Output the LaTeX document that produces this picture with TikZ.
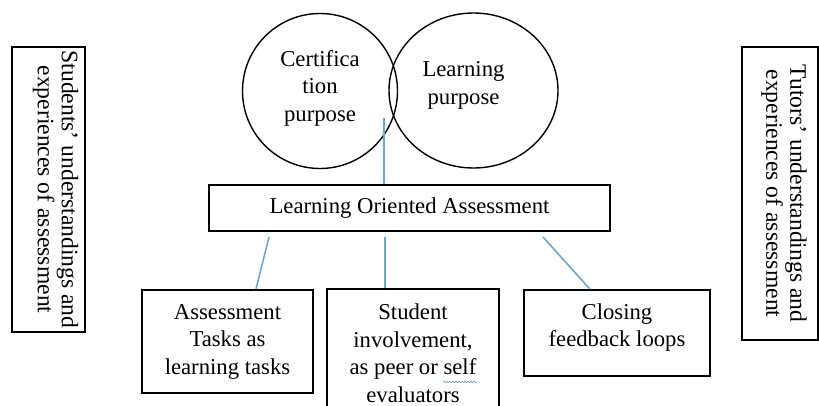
\documentclass[tikz,border=0pt]{standalone}
\usepackage{fontspec}
\setmainfont{Liberation Serif}
\usepackage{tikz}
\usetikzlibrary{shapes.geometric}
\usetikzlibrary{decorations.pathmorphing}
\definecolor{linkblue}{RGB}{112,166,204}

\begin{document}
\begin{tikzpicture}[x=1pt,y=-1pt,
	every node/.style={font=\fontsize{22.7}{27.5}\selectfont},
	box/.style={draw, line width=1.6pt, align=center, inner sep=0pt},
	purpose/.style={draw, line width=1.4pt},
	side/.style={draw, line width=1.4pt},
	sidetext/.style={rotate=-90, align=center, font=\fontsize{23.6}{24}\selectfont},
	link/.style={draw=linkblue, line width=1.6pt}]
		\useasboundingbox (0,0) rectangle (819,405);
%		the two purposes
		\node (cert) [purpose, circle, minimum size=155pt,
		label={[align=center, yshift=3pt]center:Certifica\\tion\\purpose}] at (320,91) {};
		\node (learn) [purpose, ellipse, minimum width=169pt, minimum height=155pt,
		label={[align=center, xshift=-10pt, yshift=5pt]center:Learning\\purpose}] at (473.5,90.5) {};
		\node (loa) [box, minimum width=401pt, minimum height=46pt] at (409.5,208)
		{Learning Oriented Assessment};
%		three elements
		\node (tasks) [box, minimum width=171pt, minimum height=103pt] at (227.5,341.5)
		{Assessment\\Tasks as\\learning tasks};
		\node (involve) [box, minimum width=172pt, minimum height=128pt] at (413,353)
		{Student\\involvement,\\as peer or self\\evaluators};
		\node (loops) [box, minimum width=186pt, minimum height=86pt, text depth=16pt] at (617,333)
		{Closing\\feedback loops};
%		side boxes
		\node (students) [side, minimum width=73pt, minimum height=285pt,
		label={[xshift=7pt, sidetext]center:Students’ understandings and\\experiences of assessment}] at (48.5,189.5) {};
		\node (tutors) [side, minimum width=76pt, minimum height=293pt,
		label={[xshift=4pt, sidetext]center:Tutors’ understandings and\\experiences of assessment}] at (780,193.5) {};
%		links
		\coordinate (lens) at (384,118);
		\coordinate (a1) at (269,237);
		\coordinate (a2) at (385,237);
		\coordinate (a3) at (543,237);
		\draw[link] (lens) -- (lens |- loa.north);
		\draw[link] (a1) -- ([xshift=28.5pt]tasks.north);
		\draw[link] (a2) -- (a2 |- involve.north);
		\draw[link] (a3) -- ([xshift=-27pt]loops.north);
%		squiggle under "self"
		\draw[linkblue!50!gray, line width=0.6pt, decorate,
		decoration={snake, amplitude=0.8pt, segment length=3pt}]
		([shift={(30,29)}]involve.center) -- ++(34,0);
	\end{tikzpicture}
\end{document}
